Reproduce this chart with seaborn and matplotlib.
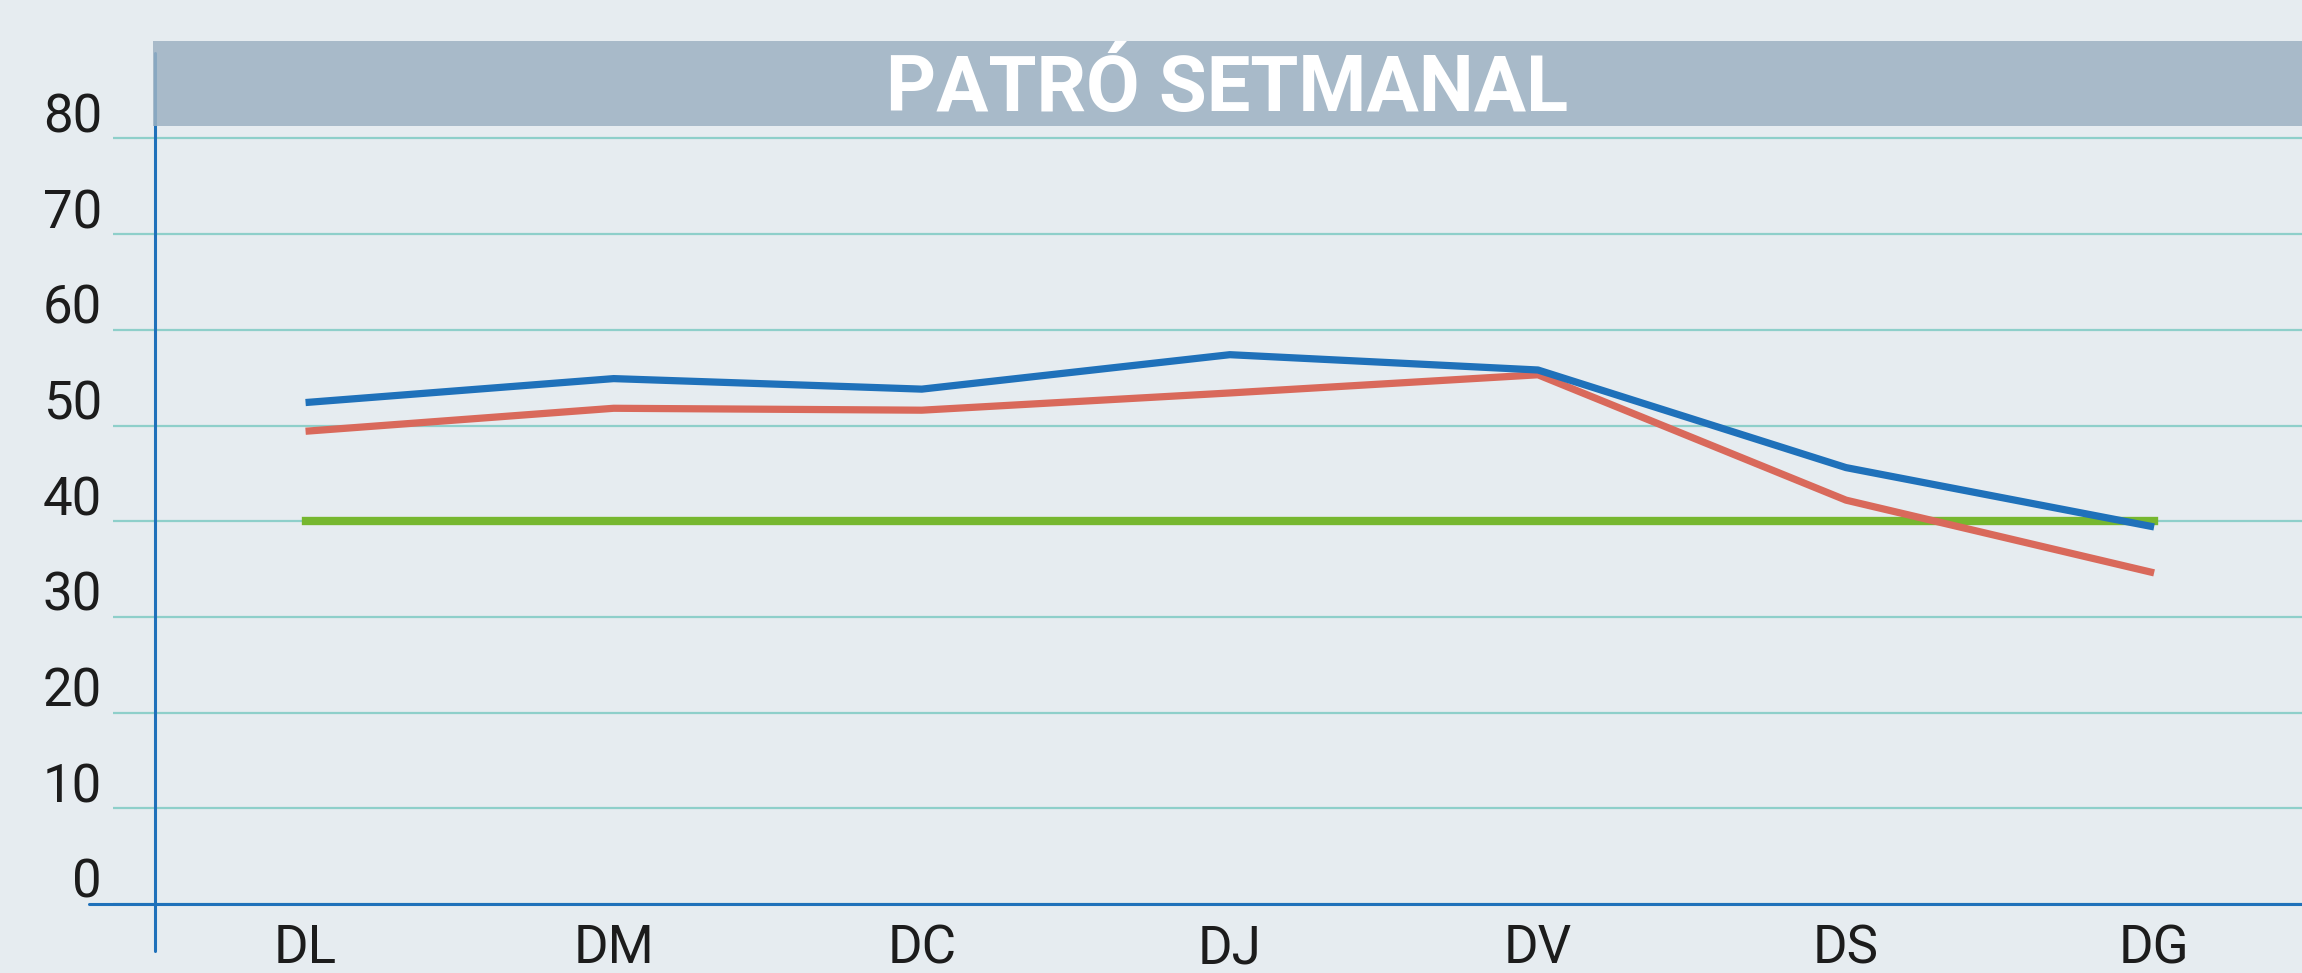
import pandas as pd
import matplotlib.pyplot as plt
import matplotlib.transforms as mtransforms
from matplotlib.lines import Line2D
from matplotlib.patches import Rectangle
import seaborn as sns

# dades del gràfic
dies = ['DL', 'DM', 'DC', 'DJ', 'DV', 'DS', 'DG']
serie_blava = [52.4, 54.9, 53.8, 57.4, 55.8, 45.6, 39.4]
serie_vermella = [49.4, 51.8, 51.6, 53.4, 55.3, 42.2, 34.6]
referencia = [40, 40, 40, 40, 40, 40, 40]
y_ticks = [0, 10, 20, 30, 40, 50, 60, 70, 80]
titol = 'PATRÓ SETMANAL'

# colors
fons = '#e6ecf0'
caixa = '#9db2c3'
graella = '#8ecfca'
blau = '#1f71ba'
vermell = '#d9695b'
verd = '#76b72f'
text_color = '#1c1c1c'

sns.set_style('white')
plt.rcParams['font.family'] = ['Roboto', 'DejaVu Sans']

W, H = 2302, 973
fig = plt.figure(figsize=(W / 100, H / 100), dpi=100, facecolor=fons)

# eixos en píxels de la figura
x_left, y_zero, y_top = 113, 904, 42
ax = fig.add_axes([x_left / W, (H - y_zero) / H, (W - x_left) / W, (y_zero - y_top) / H])
ax.set_facecolor(fons)

df = pd.DataFrame({
    'dia': dies * 3,
    'valor': referencia + serie_vermella + serie_blava,
    'serie': ['ref'] * 7 + ['vermell'] * 7 + ['blau'] * 7,
})

for nom, color, lw in [('ref', verd, 6.0), ('vermell', vermell, 5.2), ('blau', blau, 5.2)]:
    sns.lineplot(data=df[df['serie'] == nom], x='dia', y='valor', color=color,
                 linewidth=lw, sort=False, ax=ax, legend=False,
                 solid_capstyle='projecting' if nom == 'ref' else 'butt', zorder=3)

ax.set_xlim(-0.625, 6.48)
ax.set_ylim(0, (y_zero - y_top) / 9.57)
ax.set_yticks(y_ticks)
ax.set_xlabel('')
ax.set_ylabel('')
ax.grid(axis='y', color=graella, linewidth=1.6)
ax.grid(axis='x', visible=False)
for s in ax.spines.values():
    s.set_visible(False)

ax.tick_params(axis='both', length=0, labelsize=38, labelcolor=text_color)
ax.tick_params(axis='y', pad=8)
ax.tick_params(axis='x', pad=14)

# etiquetes de l'eix y una mica per sobre de la línia
offset = mtransforms.ScaledTranslation(0, 26 / 100, fig.dpi_scale_trans)
for lab in ax.get_yticklabels():
    lab.set_transform(lab.get_transform() + offset)

# línies dels eixos
fig.add_artist(Line2D([155 / W, 155 / W], [(H - 951) / H, (H - 53) / H],
                      color=blau, linewidth=2.2, transform=fig.transFigure, zorder=1))
fig.add_artist(Line2D([89 / W, 1], [(H - y_zero) / H, (H - y_zero) / H],
                      color=blau, linewidth=2.2, transform=fig.transFigure, zorder=5))

# capçalera
fig.add_artist(Rectangle((153 / W, (H - 126) / H), 1 - 153 / W, 85 / H,
                         facecolor=caixa, edgecolor='none', alpha=0.85,
                         transform=fig.transFigure, zorder=6))
fig.text((153 + W) / 2 / W, (H - 90) / H, titol, color='white', fontsize=56,
         fontweight='bold', ha='center', va='center', zorder=7)

fig.savefig('out.png', dpi=100, facecolor=fons)
